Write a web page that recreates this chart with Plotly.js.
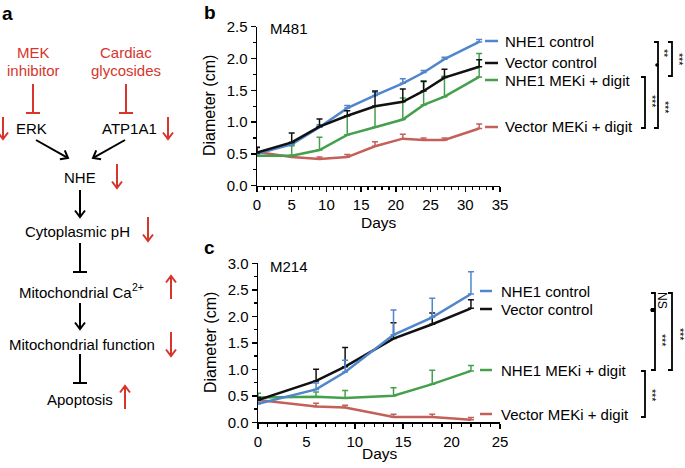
<!DOCTYPE html>
<html>
<head>
<meta charset="utf-8">
<script src="https://cdn.plot.ly/plotly-3.0.1.min.js"></script>
<style>html,body{margin:0;padding:0;background:#fff}#chart{width:685px;height:468px}</style>
</head>
<body>
<div id="chart"></div>
<script>
// ---- Data: panel b (M481) ----
const daysB = [0, 5, 9, 13, 17, 21, 24, 27, 32];
const nhe1CtrlB = [0.50, 0.65, 0.92, 1.22, 1.42, 1.61, 1.78, 1.99, 2.26];
const nhe1CtrlErrB = [0.03, 0.03, 0.04, 0.04, 0.05, 0.07, 0.03, 0.03, 0.04];
const vecCtrlB = [0.52, 0.68, 0.93, 1.10, 1.25, 1.32, 1.49, 1.70, 1.87];
const vecCtrlErrB = [0.08, 0.15, 0.12, 0.08, 0.24, 0.20, 0.15, 0.13, 0.11];
const nhe1MekB = [0.47, 0.47, 0.56, 0.80, 0.92, 1.04, 1.27, 1.40, 1.71];
const nhe1MekErrB = [0.03, 0.16, 0.20, 0.30, 0.33, 0.34, 0.38, 0.32, 0.37];
const vecMekB = [0.53, 0.45, 0.42, 0.45, 0.62, 0.74, 0.72, 0.72, 0.90];
const vecMekErrB = [0.08, 0.03, 0.03, 0.04, 0.07, 0.07, 0.03, 0.03, 0.07];

// ---- Data: panel c (M214) ----
const daysC = [0, 6, 9, 14, 18, 22];
const nhe1CtrlC = [0.35, 0.62, 0.95, 1.65, 1.98, 2.42];
const nhe1CtrlErrC = [0.03, 0.12, 0.22, 0.47, 0.36, 0.42];
const vecCtrlC = [0.42, 0.78, 1.05, 1.58, 1.85, 2.15];
const vecCtrlErrC = [0.05, 0.22, 0.36, 0.30, 0.21, 0.16];
const nhe1MekC = [0.47, 0.48, 0.46, 0.50, 0.72, 0.97];
const nhe1MekErrC = [0.08, 0.09, 0.14, 0.15, 0.26, 0.10];
const vecMekC = [0.42, 0.30, 0.28, 0.10, 0.10, 0.05];
const vecMekErrC = [0.03, 0.06, 0.04, 0.05, 0.05, 0.04];

const seriesNames = ['NHE1 control', 'Vector control', 'NHE1 MEKi + digit', 'Vector MEKi + digit'];
const seriesColors = ['#4f86cc', '#111111', '#45a04d', '#c4605a'];

// ---- Layout helpers ----
const W = 685, H = 468;
const FONT = 'Liberation Sans, Arial, Helvetica, sans-serif';
const RED = '#d6362b';
const px = x => x / W;
const py = y => 1 - y / H;

function tr(x, y, err, color, xa, ya, name) {
  return {
    x: x, y: y, type: 'scatter', mode: 'lines', name: name,
    xaxis: xa, yaxis: ya, showlegend: false,
    line: {color: color, width: 2.5},
    error_y: {type: 'data', symmetric: false, array: err, arrayminus: err.map(() => 0),
              color: color, thickness: 1.5, width: 3}
  };
}

const data = [
  tr(daysB, vecMekB, vecMekErrB, seriesColors[3], 'x', 'y', seriesNames[3]),
  tr(daysB, nhe1MekB, nhe1MekErrB, seriesColors[2], 'x', 'y', seriesNames[2]),
  tr(daysB, nhe1CtrlB, nhe1CtrlErrB, seriesColors[0], 'x', 'y', seriesNames[0]),
  tr(daysB, vecCtrlB, vecCtrlErrB, seriesColors[1], 'x', 'y', seriesNames[1]),
  tr(daysC, vecMekC, vecMekErrC, seriesColors[3], 'x2', 'y2', seriesNames[3]),
  tr(daysC, nhe1MekC, nhe1MekErrC, seriesColors[2], 'x2', 'y2', seriesNames[2]),
  tr(daysC, vecCtrlC, vecCtrlErrC, seriesColors[1], 'x2', 'y2', seriesNames[1]),
  tr(daysC, nhe1CtrlC, nhe1CtrlErrC, seriesColors[0], 'x2', 'y2', seriesNames[0])
];

function axis(extra, minorDtick) {
  return Object.assign({
    showline: true, linecolor: '#000', linewidth: 1.5, showgrid: false, zeroline: false,
    ticks: 'outside', ticklen: 5, tickwidth: 1.5, tickcolor: '#000',
    tickfont: {family: FONT, size: 15, color: '#000'}, fixedrange: true,
    minor: {ticks: 'outside', ticklen: 3, tickwidth: 1.2, tickcolor: '#000', dtick: minorDtick, showgrid: false}
  }, extra);
}

const annotations = [];
const shapes = [];

function txt(x, y, text, opts) {
  annotations.push(Object.assign({
    x: px(x), y: py(y), xref: 'paper', yref: 'paper', text: text, showarrow: false,
    xanchor: 'center', yanchor: 'middle',
    font: {family: FONT, size: 15, color: '#000'}
  }, opts || {}));
}
function seg(x1, y1, x2, y2, color, w) {
  shapes.push({type: 'line', xref: 'paper', yref: 'paper',
    x0: px(x1), y0: py(y1), x1: px(x2), y1: py(y2),
    line: {color: color, width: w || 2}});
}
function arrow(tx, ty, hx, hy, color) {
  const dx = hx - tx, dy = hy - ty, L = Math.hypot(dx, dy);
  const ux = dx / L, uy = dy / L, nx = -uy, ny = ux;
  const hl = 6.5, hw = 5;
  seg(tx, ty, hx - ux * 0.8, hy - uy * 0.8, color, 2);
  const ax = hx - ux * hl + nx * hw, ay = hy - uy * hl + ny * hw;
  const bx = hx - ux * hl - nx * hw, by = hy - uy * hl - ny * hw;
  shapes.push({type: 'path', xref: 'paper', yref: 'paper',
    path: `M${px(ax)},${py(ay)} L${px(hx)},${py(hy)} L${px(bx)},${py(by)}`,
    line: {color: color, width: 2}});
}
function tbar(x, y1, y2, color) {
  seg(x, y1, x, y2, color || '#000', 2);
  seg(x - 7, y2, x + 7, y2, color || '#000', 2);
}
function bracket(x, y1, y2) {
  shapes.push({type: 'path', xref: 'paper', yref: 'paper',
    path: `M${px(x - 4)},${py(y1)} L${px(x)},${py(y1)} L${px(x)},${py(y2)} L${px(x - 4)},${py(y2)}`,
    line: {color: '#000', width: 1.8}});
}
function dot(x, y) {
  shapes.push({type: 'circle', xref: 'paper', yref: 'paper',
    x0: px(x - 1.8), x1: px(x + 1.8), y0: py(y + 1.8), y1: py(y - 1.8),
    fillcolor: '#000', line: {width: 0}});
}

// ---- Panel labels ----
txt(7, 13, '<b>a</b>', {font: {family: FONT, size: 19, color: '#000'}});
txt(210, 12, '<b>b</b>', {font: {family: FONT, size: 19, color: '#000'}});
txt(209, 247, '<b>c</b>', {font: {family: FONT, size: 19, color: '#000'}});

// ---- Panel a diagram ----
const redFont = {family: FONT, size: 15, color: RED};
txt(33, 52, 'MEK', {font: redFont});
txt(33, 70, 'inhibitor', {font: redFont});
txt(126, 52, 'Cardiac', {font: redFont});
txt(126, 70, 'glycosides', {font: redFont});
tbar(33, 84, 113, RED);
tbar(126, 84, 113, RED);
txt(32, 128, 'ERK');
txt(129, 128, 'ATP1A1');
arrow(3, 117, 3, 139, RED);
arrow(168, 117, 168, 139, RED);
arrow(36, 140, 68, 158, '#000');
arrow(125, 140, 93, 158, '#000');
txt(80, 177, 'NHE');
arrow(117, 164, 117, 188, RED);
arrow(80, 190, 80, 217, '#000');
txt(77, 231, 'Cytoplasmic pH');
arrow(148, 217, 148, 241, RED);
tbar(80, 243, 272);
txt(17, 292, 'Mitochondrial Ca', {xanchor: 'left'});
txt(130, 287, '2+', {font: {family: FONT, size: 10.5, color: '#000'}, xanchor: 'left'});
arrow(171, 299, 171, 276, RED);
arrow(80, 303, 80, 329, '#000');
txt(82, 344, 'Mitochondrial function');
arrow(171, 332, 171, 356, RED);
tbar(80, 354, 383);
txt(80, 399, 'Apoptosis');
arrow(125, 409, 125, 386, RED);

// ---- Axis titles / inner labels ----
txt(210, 106, 'Diameter (cm)', {textangle: -90, font: {family: FONT, size: 16, color: '#000'}});
txt(210, 343, 'Diameter (cm)', {textangle: -90, font: {family: FONT, size: 16, color: '#000'}});
txt(379, 222, 'Days', {font: {family: FONT, size: 15.5, color: '#000'}});
txt(380, 453, 'Days', {font: {family: FONT, size: 15.5, color: '#000'}});
txt(268, 28, 'M481', {xanchor: 'left'});
txt(268, 266, 'M214', {xanchor: 'left'});

// ---- Series labels at line ends ----
const labYB = [41, 63, 80, 127];
const labYC = [291, 309, 370, 414];
seriesNames.forEach((n, i) => {
  seg(485, labYB[i], 498, labYB[i], seriesColors[i], 2.5);
  txt(503, labYB[i], n, {xanchor: 'left'});
  seg(480, labYC[i], 492, labYC[i], seriesColors[i], 2.5);
  txt(499, labYC[i], n, {xanchor: 'left'});
});

// ---- Significance brackets ----
const starFont = {family: FONT, size: 10.5, color: '#000'};
// panel b
bracket(658, 42, 128);
dot(657, 65);
txt(664, 53, '**', {textangle: 90, font: starFont});
txt(665, 107, '***', {textangle: 90, font: starFont});
bracket(672, 42, 76);
txt(679, 59, '***', {textangle: 90, font: starFont});
bracket(645, 77, 128);
txt(652, 101, '***', {textangle: 90, font: starFont});
// panel c
bracket(655, 293, 309);
txt(662, 300, 'NS', {textangle: 90, font: {family: FONT, size: 12, color: '#000'}});
dot(652, 310);
bracket(655, 311, 370);
txt(662, 340, '***', {textangle: 90, font: starFont});
bracket(672, 293, 370);
txt(680, 334, '***', {textangle: 90, font: starFont});
bracket(645, 371, 417);
txt(652, 395, '***', {textangle: 90, font: starFont});

const layout = {
  width: W, height: H,
  margin: {l: 0, r: 0, t: 0, b: 0},
  paper_bgcolor: '#fff', plot_bgcolor: 'rgba(0,0,0,0)',
  font: {family: FONT, color: '#000'},
  showlegend: false,
  xaxis: axis({domain: [257 / W, 500 / W], range: [0, 35], dtick: 5, anchor: 'y'}, 1),
  yaxis: axis({domain: [py(185.7), py(26.7)], range: [0, 2.5], dtick: 0.5, tickformat: '.1f', anchor: 'x'}, 0.25),
  xaxis2: axis({domain: [258 / W, 500 / W], range: [0, 25], dtick: 5, anchor: 'y2'}, 1),
  yaxis2: axis({domain: [py(422.3), py(263.3)], range: [0, 3], dtick: 0.5, tickformat: '.1f', anchor: 'x2'}, 0.25),
  annotations: annotations,
  shapes: shapes
};

Plotly.newPlot('chart', data, layout, {displayModeBar: false, staticPlot: true});
</script>
</body>
</html>
